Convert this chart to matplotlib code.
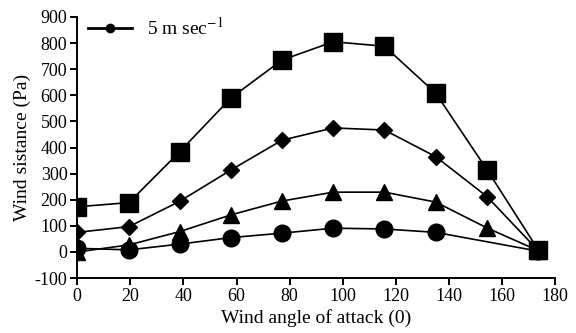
import matplotlib
matplotlib.use("Agg")
import matplotlib.pyplot as plt

plt.rcParams['font.family'] = ['Liberation Serif', 'DejaVu Serif']
plt.rcParams['mathtext.fontset'] = 'stix'
plt.rcParams['axes.unicode_minus'] = False

angles = [0, 19.5, 38.6, 57.9, 77.1, 96.4, 115.7, 135, 154.3, 173.6]
square_vals = [173, 189, 384, 590, 735, 805, 788, 608, 315, 8]
diamond_vals = [75, 97, 194, 314, 428, 475, 467, 365, 212, 5]
triangle_vals = [0, 27, 78, 142, 195, 229, 229, 191, 92, 5]
circle_vals = [14, 8, 30, 55, 72, 91, 88, 75, None, 3]

x_ticks = list(range(0, 181, 20))
y_ticks = list(range(-100, 901, 100))

fig = plt.figure(figsize=(5.76, 3.33), dpi=100)
ax = fig.add_axes([0.134, 0.165, 0.83, 0.784])

lw = 1.2
ax.plot(angles, square_vals, color='black', lw=lw, marker='s', ms=12.5)
ax.plot(angles, diamond_vals, color='black', lw=lw, marker='D', ms=8.5)
ax.plot(angles, triangle_vals, color='black', lw=lw, marker='^', ms=12)
cx = [a for a, v in zip(angles, circle_vals) if v is not None]
cy = [v for v in circle_vals if v is not None]
ax.plot(cx, cy, color='black', lw=lw, marker='o', ms=12)

legend_line, = ax.plot([], [], color='black', lw=2, marker='o', ms=6)
ax.legend([legend_line], ['5 m sec$^{-1}$'], loc='center left', frameon=False,
          fontsize=14, bbox_to_anchor=(0.023, 0.958), handlelength=2.26,
          handletextpad=0.77, borderpad=0, borderaxespad=0)

ax.set_xlim(0, 180)
ax.set_ylim(-100, 900)
ax.set_xticks(x_ticks)
ax.set_yticks(y_ticks)
ax.spines['top'].set_visible(False)
ax.spines['right'].set_visible(False)
for s in ('left', 'bottom'):
    ax.spines[s].set_linewidth(1.4)
ax.tick_params(direction='out', length=5, width=1.4, labelsize=13, pad=2)
ax.set_xlabel('Wind angle of attack (0)', fontsize=14, labelpad=3)
ax.set_ylabel('Wind sistance (Pa)', fontsize=14, labelpad=3)

fig.savefig('out.png', dpi=100)
